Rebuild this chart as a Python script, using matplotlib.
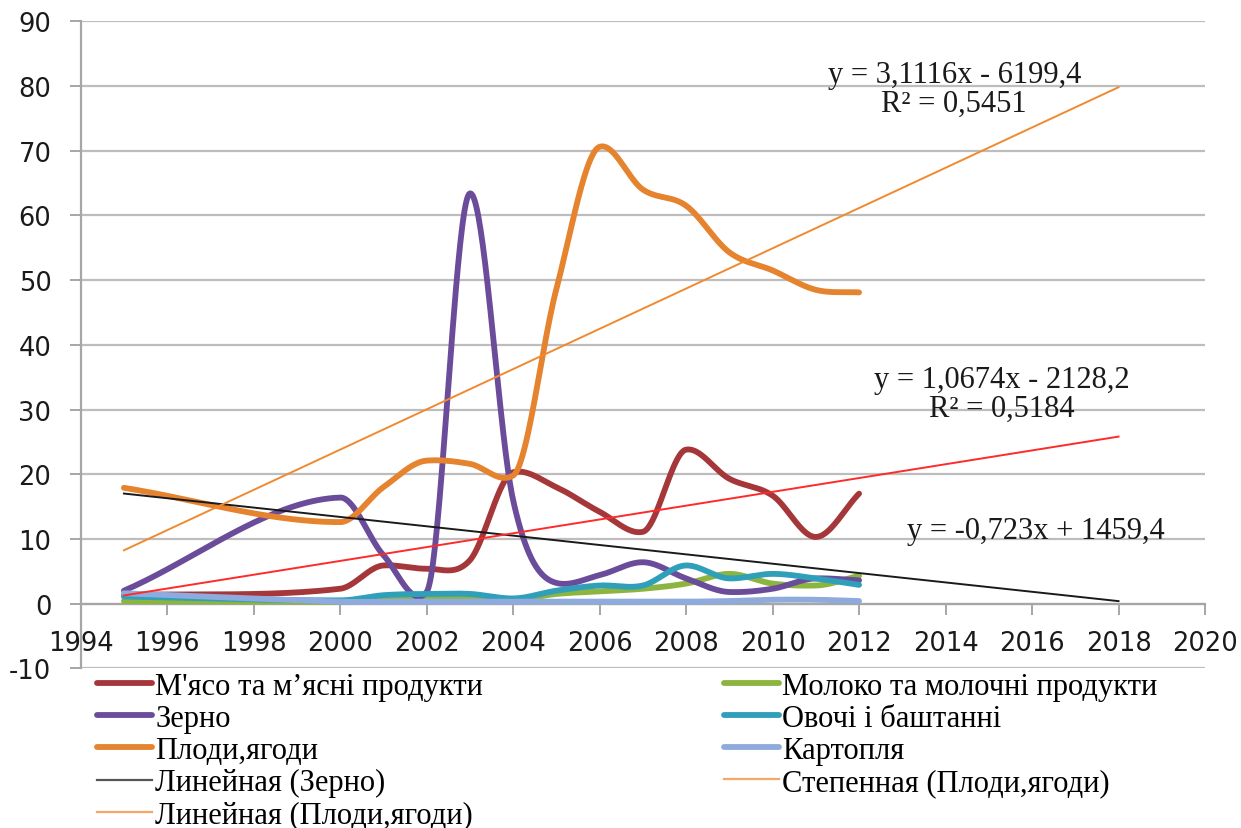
import numpy as np
import matplotlib
matplotlib.use("Agg")
import matplotlib.pyplot as plt
from matplotlib.lines import Line2D

plt.rcParams["axes.unicode_minus"] = False
plt.rcParams["font.family"] = ["DejaVu Sans"]

# ---------------- data ----------------
years = [1995, 2000, 2001, 2002, 2003, 2004, 2005, 2006, 2007, 2008, 2009, 2010, 2011, 2012]
meat    = [1.3, 2.3, 5.9, 5.4, 6.7, 20.3, 18.0, 14.2, 11.1, 23.8, 19.3, 16.7, 10.3, 17.0]
milk    = [0.4, 0.3, 0.6, 0.7, 0.8, 0.6, 1.5, 1.9, 2.3, 3.1, 4.6, 3.1, 2.8, 4.3]
grain   = [2.0, 16.4, 7.5, 1.8, 63.4, 16.0, 3.2, 4.4, 6.4, 3.9, 1.8, 2.3, 3.9, 3.6]
veg     = [1.1, 0.5, 1.3, 1.5, 1.5, 0.8, 2.0, 2.8, 2.8, 5.9, 3.9, 4.6, 3.9, 2.9]
fruit   = [17.9, 12.6, 18.0, 22.1, 21.6, 19.8, 48.6, 70.6, 64.0, 61.5, 54.3, 51.5, 48.5, 48.1]
potato  = [1.6, 0.3, 0.3, 0.3, 0.3, 0.3, 0.3, 0.3, 0.3, 0.3, 0.4, 0.6, 0.6, 0.4]

series_names = ["М'ясо та м’ясні продукти", "Молоко та молочні продукти", "Зерно",
                "Овочі і баштанні", "Плоди,ягоди", "Картопля"]
series_colors = ["#A5373A", "#8CB540", "#6B4C9A", "#2F9FBA", "#E5832F", "#8FAADC"]

# trend lines (slope, intercept) and their x-range
trend_range = [1995, 2018]
trend_grain = (-0.723, 1459.4)
trend_fruit = (3.1116, -6199.4)
trend_red = (1.0674, -2128.2)
trend_labels = ["Линейная (Зерно)", "Степенная (Плоди,ягоди)", "Линейная (Плоди,ягоди)"]

eq_texts = ["y = 3,1116x - 6199,4\nR² = 0,5451",
            "y = 1,0674x - 2128,2\nR² = 0,5184",
            "y = -0,723x + 1459,4"]

xticks = list(range(1994, 2021, 2))
yticks = list(range(-10, 91, 10))


def smooth(x, y, n=40, ext_scale=0.3):
    x = np.asarray(x, float)
    y = np.asarray(y, float)
    m = np.zeros_like(y)
    m[0] = (y[1] - y[0]) / (x[1] - x[0])
    m[-1] = (y[-1] - y[-2]) / (x[-1] - x[-2])
    m[1:-1] = (y[2:] - y[:-2]) / (x[2:] - x[:-2])
    for i in range(1, len(y) - 1):
        if (y[i] - y[i - 1]) * (y[i + 1] - y[i]) < 0:
            m[i] *= ext_scale
    xs, ys = [], []
    for i in range(len(x) - 1):
        h = x[i + 1] - x[i]
        t = np.linspace(0, 1, n, endpoint=(i == len(x) - 2))
        h00 = 2 * t**3 - 3 * t**2 + 1
        h10 = t**3 - 2 * t**2 + t
        h01 = -2 * t**3 + 3 * t**2
        h11 = t**3 - t**2
        xs.append(x[i] + t * h)
        ys.append(h00 * y[i] + h10 * h * m[i] + h01 * y[i + 1] + h11 * h * m[i + 1])
    return np.concatenate(xs), np.concatenate(ys)


fig = plt.figure(figsize=(12.41, 8.29), dpi=100)
ax = fig.add_axes([0.065, 0.1926, 0.906, 0.7805])

ax.set_xlim(1994, 2020)
ax.set_ylim(-10, 90)
ax.set_xticks(xticks)
ax.set_yticks(yticks)
ax.grid(axis="y", color="#BDBDBD", lw=1.6, zorder=0)
ax.set_axisbelow(True)

for s in ["top", "right"]:
    ax.spines[s].set_visible(False)
ax.spines["bottom"].set_position(("data", 0))
for s in ["left", "bottom"]:
    ax.spines[s].set_color("#A6A6A6")
    ax.spines[s].set_linewidth(1.6)
ax.tick_params(axis="both", colors="#A6A6A6", length=8, width=1.4, direction="out",
               labelcolor="#1a1a1a", labelsize=18.5)
ax.tick_params(axis="y", pad=13)
ax.tick_params(axis="x", pad=11)

data = [meat, milk, grain, veg, fruit, potato]
handles = {}
for name, vals, col in zip(series_names, data, series_colors):
    xs, ys = smooth(years, vals)
    (ln,) = ax.plot(xs, ys, color=col, lw=4.2, solid_capstyle="round", zorder=3)
    handles[name] = ln

tx = np.array(trend_range, float)
ax.plot(tx, trend_grain[0] * tx + trend_grain[1], color="#1a1a1a", lw=1.4, zorder=4)
ax.plot(tx, trend_fruit[0] * tx + trend_fruit[1], color="#F08A30", lw=1.4, zorder=4)
ax.plot(tx, trend_red[0] * tx + trend_red[1], color="#FF2A2A", lw=1.4, zorder=4)

serif = "Liberation Serif"
ax.text(2014.2, 79.6, eq_texts[0], ha="center", va="center", fontsize=22,
        family=serif, color="#1a1a1a", linespacing=1.0, zorder=5)
ax.text(2015.3, 32.4, eq_texts[1], ha="center", va="center", fontsize=22,
        family=serif, color="#1a1a1a", linespacing=1.0, zorder=5)
ax.text(2016.1, 11.3, eq_texts[2], ha="center", va="center", fontsize=22,
        family=serif, color="#1a1a1a", zorder=5)

# legend (Excel row-major order -> matplotlib column-major)
h_step = Line2D([], [], color="#F4A766", lw=1.6)
h_lin_g = Line2D([], [], color="#555555", lw=1.6)
h_lin_f = Line2D([], [], color="#F4A766", lw=1.6)
leg_handles = [handles[series_names[0]], handles[series_names[2]], handles[series_names[4]],
               h_lin_g, h_lin_f,
               handles[series_names[1]], handles[series_names[3]], handles[series_names[5]],
               h_step]
leg_labels = [series_names[0], series_names[2], series_names[4], trend_labels[0], trend_labels[2],
              series_names[1], series_names[3], series_names[5], trend_labels[1]]
fig.legend(leg_handles, leg_labels, loc="upper left", bbox_to_anchor=(97 / 1241, 1 - 673 / 829),
           ncol=2, frameon=False, prop={"family": serif, "size": 22},
           handlelength=1.8, handletextpad=0.1, labelspacing=0.1, columnspacing=7.9,
           borderpad=0, borderaxespad=0)

fig.savefig("out.png", dpi=100)
